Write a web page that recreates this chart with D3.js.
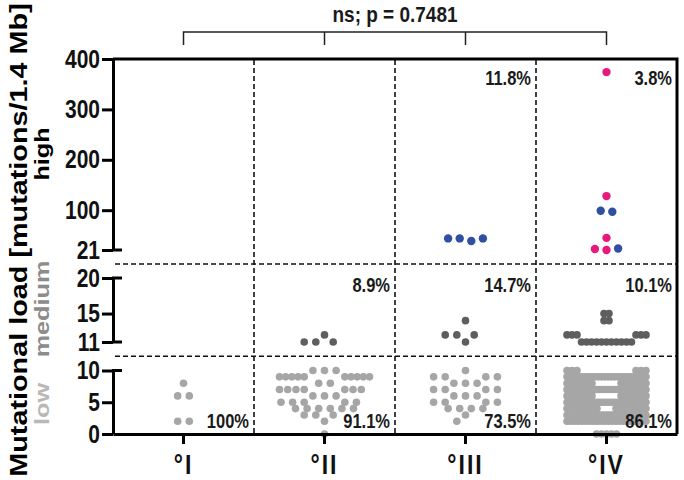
<!DOCTYPE html>
<html>
<head>
<meta charset="utf-8">
<script src="https://cdn.jsdelivr.net/npm/d3@7"></script>
<style>
  body { margin: 0; background: #fff; }
  text { font-family: Arial, "Liberation Sans", sans-serif; font-weight: bold; }
</style>
</head>
<body>
<div id="chart"></div>
<script>
const FRAME_WIDTH = 684;
const FRAME_HEIGHT = 480;
const STRETCH = 1.2; // the figure text looks vertically stretched

// categories
const groups = ["°I", "°II", "°III", "°IV"];

// low panel: number of samples per mutation count 0..10
const lowLevels = [0, 1, 2, 3, 4, 5, 6, 7, 8, 9, 10];
const lowCounts = {
  "°I":   [0, 0, 2, 0, 0, 0, 2, 0, 1, 0, 0],
  "°II":  [1, 0, 1, 3, 6, 5, 3, 7, 2, 10, 3],
  "°III": [0, 0, 1, 1, 4, 4, 3, 4, 3, 4, 1],
  "°IV":  [5, 0, 22, 30, 14, 26, 12, 26, 12, 26, 6]
};

// medium panel: number of samples per mutation count 11..20
const medLevels = [11, 12, 13, 14, 15, 16, 17, 18, 19, 20];
const medCounts = {
  "°I":   [0, 0, 0, 0, 0, 0, 0, 0, 0, 0],
  "°II":  [3, 1, 0, 0, 0, 0, 0, 0, 0, 0],
  "°III": [1, 3, 0, 1, 0, 0, 0, 0, 0, 0],
  "°IV":  [11, 6, 0, 2, 2, 0, 0, 0, 0, 0]
};

// high panel: single samples
const highGroup = ["°III", "°III", "°III", "°III", "°IV", "°IV", "°IV", "°IV", "°IV", "°IV", "°IV", "°IV"];
const highValue = [44, 44, 39, 44, 374, 128, 99, 97, 45, 23, 21, 24];
const highType  = ["b", "b", "b", "b", "p", "p", "b", "b", "p", "p", "p", "b"];

// percentages per panel
const lowPct  = ["100%", "91.1%", "73.5%", "86.1%"];
const medPct  = ["", "8.9%", "14.7%", "10.1%"];
const highPct = ["", "", "11.8%", "3.8%"];

// tick labels
const highTicks = [21, 100, 200, 300, 400];
const medTicks = [11, 15, 20];
const lowTicks = [0, 5, 10];

const pValue = "ns; p = 0.7481";

let svg = d3.select("#chart")
  .append("svg")
  .attr("width", FRAME_WIDTH)
  .attr("height", FRAME_HEIGHT);

let x = d3.scaleBand().domain(groups).range([113, 677]);
let yHigh = d3.scaleLinear().domain([21, 400]).range([250, 59]);
let yMed = d3.scaleLinear().domain([11, 20]).range([342, 278]);
let yLow = d3.scaleLinear().domain([0, 10]).range([434, 370.5]);

let color = d3.scaleOrdinal().domain(["b", "p"]).range(["#2f4fa0", "#e8197c"]);

function centerX(g) { return x(g) + x.bandwidth() / 2; }

// dashed grid
let hDash = [(yHigh(21) + yMed(20)) / 2, (yMed(11) + yLow(10)) / 2];
svg.selectAll(".hdash")
  .data(hDash)
  .enter()
  .append("line")
  .attr("x1", 115).attr("x2", 677)
  .attr("y1", function(d) { return d; }).attr("y2", function(d) { return d; })
  .attr("stroke", "#111").attr("stroke-width", 1.6).attr("stroke-dasharray", "5,3");

svg.selectAll(".vdash")
  .data(groups.slice(1))
  .enter()
  .append("line")
  .attr("x1", function(d) { return x(d); }).attr("x2", function(d) { return x(d); })
  .attr("y1", 60).attr("y2", 433)
  .attr("stroke", "#111").attr("stroke-width", 1.6).attr("stroke-dasharray", "5,3");

// group points into rows of (nearly) equal y, data order inside a row
function makeRows(points) {
  points.sort(function(a, b) { return a.y - b.y || a.i - b.i; });
  let rows = [];
  points.forEach(function(p) {
    let last = rows[rows.length - 1];
    if (last && p.y - last[0].y < 4) last.push(p); else rows.push([p]);
  });
  rows.forEach(function(r) { r.sort(function(a, b) { return a.i - b.i; }); });
  return rows;
}

// few points: small rows go first in the middle, bigger rows next to them
// open up in the centre (prism style scatter)
function layoutSparse(points, step, maxW) {
  let rows = makeRows(points);
  let order = d3.range(rows.length).sort(function(a, b) {
    return rows[a].length - rows[b].length || rows[a][0].y - rows[b][0].y;
  });
  let done = [];
  order.forEach(function(ri) {
    let row = rows[ri], n = row.length;
    let nb = [];
    done.forEach(function(rj) {
      if (Math.abs(rows[rj][0].y - row[0].y) < 9) nb = nb.concat(rows[rj]);
    });
    let s = n > 1 ? Math.min(step, maxW / (n - 1)) : 0;
    let centred = row.map(function(p, k) { return (k - (n - 1) / 2) * s; });
    let hit = centred.some(function(dx) {
      return nb.some(function(q) { return Math.abs(q.dx - dx) < 0.75 * step; });
    });
    let pos = centred;
    if (hit) {
      let h = d3.max(nb, function(q) { return Math.abs(q.dx); });
      let a = h + 0.75 * step, b = maxW / 2 + 2;
      let nl = Math.ceil(n / 2), nr = n - nl;
      let kmax = Math.max(nl, nr);
      let sp = kmax > 1 ? Math.min(step, (b - a) / (kmax - 1)) : step;
      if (a <= b && sp >= 5.5) {
        pos = row.map(function(p, k) { return k < nl ? -(a + k * sp) : a + (k - nl) * sp; });
      }
    }
    row.forEach(function(p, k) { p.dx = pos[k]; p.x = p.cx + pos[k]; });
    done.push(ri);
  });
  return points;
}

// many points: squeezed rows, a row next to a fuller one is pushed to both edges
function layoutDense(points, step, maxW) {
  let rows = makeRows(points);
  let cap = Math.floor(maxW / step) + 1;
  rows.forEach(function(row, ri) {
    let n = row.length;
    let bigger = [rows[ri - 1], rows[ri + 1]].some(function(r) {
      return r && Math.abs(r[0].y - row[0].y) < 9 && r.length > n;
    });
    if (n > 1 && n < cap && bigger) {
      let nl = Math.ceil(n / 2);
      row.forEach(function(p, k) {
        p.x = k < nl ? p.cx - maxW / 2 + k * step : p.cx + maxW / 2 - (k - nl) * step;
      });
    } else {
      let s = n > 1 ? Math.min(step, maxW / (n - 1)) : 0;
      row.forEach(function(p, k) { p.x = p.cx + (k - (n - 1) / 2) * s; });
    }
  });
  return points;
}

let dots = [];
groups.forEach(function(g, gi) {
  let low = [], med = [], high = [];
  lowLevels.forEach(function(v, li) {
    for (let k = 0; k < lowCounts[g][li]; k++) low.push({ v: v, y: yLow(v), cx: centerX(g), i: low.length, fill: "#a6a6a6", r: 3.8 });
  });
  medLevels.forEach(function(v, li) {
    for (let k = 0; k < medCounts[g][li]; k++) med.push({ v: v, y: yMed(v), cx: centerX(g), i: med.length, fill: "#5e5e5e", r: 3.8 });
  });
  highValue.forEach(function(v, hi) {
    if (highGroup[hi] === g) high.push({ v: v, y: yHigh(v), cx: centerX(g), i: high.length, fill: color(highType[hi]), r: 4.2 });
  });
  if (gi === 3) {
    dots = dots.concat(layoutDense(low, 5, 79), layoutDense(med, 5, 79));
  } else {
    dots = dots.concat(layoutSparse(low, 11.6, 86), layoutSparse(med, 11.6, 86));
  }
  dots = dots.concat(layoutSparse(high, 11.6, 86));
});

svg.selectAll("circle")
  .data(dots)
  .enter()
  .append("circle")
  .attr("cx", function(d) { return d.x; })
  .attr("cy", function(d) { return d.y; })
  .attr("r", function(d) { return d.r; })
  .attr("fill", function(d) { return d.fill; });

// text helper with the vertical stretch
function addText(px, py, str, size, anchor, fill) {
  return svg.append("text")
    .attr("transform", "translate(" + px + "," + py + ") scale(1," + STRETCH + ")")
    .attr("text-anchor", anchor)
    .style("font-size", size + "px")
    .style("fill", fill)
    .text(str);
}

// percentages
groups.forEach(function(g, gi) {
  let right = x(g) + x.bandwidth() - 5;
  if (lowPct[gi]) addText(right, 428, lowPct[gi], 16.5, "end", "#1a1a1a");
  if (medPct[gi]) addText(right, 292, medPct[gi], 16.5, "end", "#1a1a1a");
  if (highPct[gi]) addText(right, 85, highPct[gi], 16.5, "end", "#1a1a1a");
});

// y axis segments
function styleAxis(g) {
  g.selectAll("path, line").attr("stroke", "#000").attr("stroke-width", 3);
  g.selectAll("text")
    .attr("transform", "scale(1," + STRETCH + ")")
    .style("font-size", "21px")
    .style("fill", "#111");
}
[[yHigh, highTicks], [yMed, medTicks], [yLow, lowTicks]].forEach(function(a) {
  svg.append("g")
    .attr("transform", "translate(113,0)")
    .call(d3.axisLeft(a[0]).tickValues(a[1]).tickSize(11).tickSizeOuter(0).tickPadding(2))
    .call(styleAxis);
});

// caps on the broken ends
let caps = [yHigh(21), yMed(20), yMed(11), yLow(10)];
svg.selectAll(".cap")
  .data(caps)
  .enter()
  .append("line")
  .attr("x1", 112).attr("x2", 122)
  .attr("y1", function(d) { return d; }).attr("y2", function(d) { return d; })
  .attr("stroke", "#000").attr("stroke-width", 3);

// frame top and right
svg.append("path")
  .attr("d", "M113," + yHigh(400) + "H677V" + yLow(0))
  .attr("fill", "none").attr("stroke", "#000").attr("stroke-width", 3);

// x axis
let xAxis = svg.append("g")
  .attr("transform", "translate(0," + yLow(0) + ")")
  .call(d3.axisBottom(x).tickSize(10).tickSizeOuter(0));
xAxis.selectAll("path, line").attr("stroke", "#000").attr("stroke-width", 3);
xAxis.selectAll("text")
  .attr("y", 0).attr("dy", 0)
  .attr("transform", "translate(0,40) scale(1," + STRETCH + ")")
  .style("font-size", "23px")
  .style("letter-spacing", "2px")
  .style("fill", "#111");

// significance bracket
let bx = groups.map(centerX);
svg.append("path")
  .attr("d", "M" + bx[0] + ",45V32H" + bx[3] + "V45M" + bx[1] + ",32V45M" + bx[2] + ",32V45")
  .attr("fill", "none").attr("stroke", "#222").attr("stroke-width", 1.5);
addText((bx[0] + bx[3]) / 2, 22, pValue, 19, "middle", "#1a1a1a");

// y titles (rotated, stretched along their length)
function addVText(px, py, str, size, fill) {
  return svg.append("text")
    .attr("transform", "translate(" + px + "," + py + ") rotate(-90) scale(" + STRETCH + ",1)")
    .attr("text-anchor", "middle")
    .style("font-size", size + "px")
    .style("fill", fill)
    .text(str);
}
addVText(27, 240, "Mutational load [mutations/1.4 Mb]", 24, "#000");
addVText(49, 154, "high", 21, "#000");
addVText(49, 309, "medium", 21, "#8c8c8c");
addVText(49, 404, "low", 21, "#b8b8b8");
</script>
</body>
</html>
